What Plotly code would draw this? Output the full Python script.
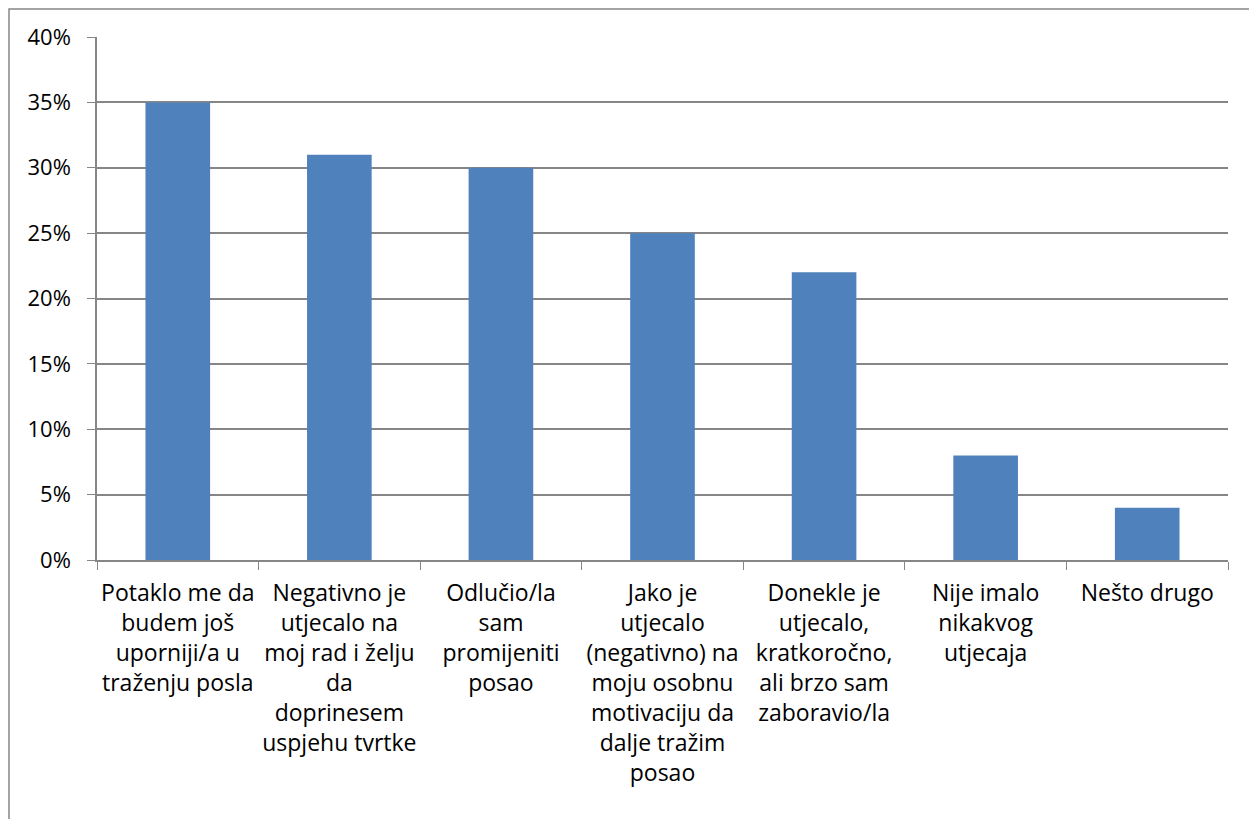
import plotly.graph_objects as go

# Kategorije (s prijelomima redaka kao na slici)
kategorije = [
    "Potaklo me da<br>budem još<br>uporniji/a u<br>traženju posla",
    "Negativno je<br>utjecalo na<br>moj rad i želju<br>da<br>doprinesem<br>uspjehu tvrtke",
    "Odlučio/la<br>sam<br>promijeniti<br>posao",
    "Jako je<br>utjecalo<br>(negativno) na<br>moju osobnu<br>motivaciju da<br>dalje tražim<br>posao",
    "Donekle je<br>utjecalo,<br>kratkoročno,<br>ali brzo sam<br>zaboravio/la",
    "Nije imalo<br>nikakvog<br>utjecaja",
    "Nešto drugo",
]
udjeli = [0.35, 0.31, 0.30, 0.25, 0.22, 0.08, 0.04]

fig = go.Figure()
fig.add_trace(
    go.Bar(
        x=kategorije,
        y=udjeli,
        marker=dict(color="#4F81BD", line=dict(color="#4F81BD", width=0)),
        showlegend=False,
    )
)

fig.update_layout(
    width=1249,
    height=811,
    margin=dict(l=89, r=29, t=29, b=259),
    paper_bgcolor="white",
    plot_bgcolor="white",
    bargap=0.6,
    font=dict(family="Open Sans, Noto Sans, sans-serif", size=22, color="black"),
)

fig.update_xaxes(
    showline=True,
    linecolor="#868686",
    linewidth=1.5,
    ticks="outside",
    tickson="boundaries",
    ticklen=8,
    tickcolor="#868686",
    tickfont=dict(size=23),
    tickangle=0,
    ticklabelstandoff=12,
    showgrid=False,
)
fig.update_yaxes(
    range=[0, 0.4],
    dtick=0.05,
    tickformat=".0%",
    showline=True,
    linecolor="#868686",
    linewidth=1.5,
    ticks="outside",
    ticklen=8,
    tickcolor="#868686",
    showgrid=True,
    gridcolor="#868686",
    gridwidth=1.5,
    zeroline=False,
    ticklabelstandoff=12,
)

# Okvir grafikona
fig.add_shape(
    type="rect",
    xref="paper",
    yref="paper",
    x0=-0.0778,
    x1=1.0212,
    y0=-0.55,
    y1=1.0535,
    line=dict(color="#868686", width=1.5),
    fillcolor="rgba(0,0,0,0)",
    layer="below",
)

fig.write_html("out.html")
